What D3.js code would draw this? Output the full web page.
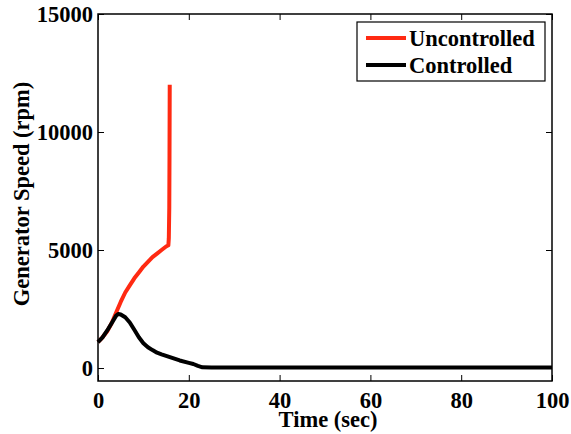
<!DOCTYPE html>
<html>
<head>
<meta charset="utf-8">
<script src="https://cdn.jsdelivr.net/npm/d3@7/dist/d3.min.js"></script>
<style>
  html, body { margin: 0; padding: 0; background: #fff; }
  svg text { font-family: "Liberation Serif", "Times New Roman", serif !important; font-weight: bold; fill: #000; }
</style>
</head>
<body>
<svg id="chart" width="571" height="434"></svg>
<script>
// Generator speed time histories (t in sec, speed in rpm)
const uncontrolledTime  = [0, 1, 2, 3, 4, 5, 6, 7, 8, 9, 10, 11, 12, 13, 14, 15, 15.5, 15.6, 15.7, 15.75, 15.8];
const uncontrolledSpeed = [1100, 1300, 1550, 1900, 2350, 2800, 3200, 3500, 3800, 4050, 4300, 4500, 4700, 4850, 5000, 5150, 5200, 5500, 6800, 9000, 12000];

const controlledTime  = [0, 1, 2, 3, 4, 4.5, 5, 6, 7, 8, 9, 10, 11, 12, 13, 14, 16, 18, 20, 21, 22, 23, 25, 30, 40, 50, 60, 70, 80, 90, 100];
const controlledSpeed = [1100, 1300, 1580, 1900, 2220, 2290, 2270, 2150, 1930, 1620, 1300, 1050, 880, 760, 650, 580, 450, 320, 220, 170, 90, 30, 20, 20, 20, 20, 20, 20, 20, 20, 20];

const xTicks = [0, 20, 40, 60, 80, 100];
const yTicks = [0, 5000, 10000, 15000];

const seriesNames  = ["Uncontrolled", "Controlled"];
const seriesColors = ["#ff2a12", "#000000"];

const FONT = 22.5;
const SERIF = '"Liberation Serif", "Times New Roman", serif';

const svg = d3.select("#chart");
const x = d3.scaleLinear().domain([0, 100]).range([98, 552]);
const y = d3.scaleLinear().domain([-550, 15000]).range([381, 14]);

const tickLen = 6;

// Axes (inward ticks, mirrored on top and right)
const gx = svg.append("g").attr("transform", `translate(0,${y.range()[0]})`)
  .call(d3.axisBottom(x).tickValues(xTicks).tickSize(-tickLen).tickPadding(11).tickSizeOuter(0).tickFormat(d3.format("d")));
const gxTop = svg.append("g").attr("transform", `translate(0,${y.range()[1]})`)
  .call(d3.axisTop(x).tickValues(xTicks).tickSize(-tickLen).tickFormat("").tickSizeOuter(0));
const gy = svg.append("g").attr("transform", `translate(${x.range()[0]},0)`)
  .call(d3.axisLeft(y).tickValues(yTicks).tickSize(-tickLen).tickPadding(5).tickSizeOuter(0).tickFormat(d3.format("d")));
const gyRight = svg.append("g").attr("transform", `translate(${x.range()[1]},0)`)
  .call(d3.axisRight(y).tickValues(yTicks).tickSize(-tickLen).tickFormat("").tickSizeOuter(0));

[gx, gxTop, gy, gyRight].forEach(g => {
  g.attr("font-family", SERIF).attr("font-size", FONT);
  g.select(".domain").remove();
  g.selectAll(".tick line").attr("stroke", "#000").attr("stroke-width", 1);
  g.selectAll(".tick text")
    .style("font-family", SERIF)
    .style("font-weight", "bold")
    .style("font-size", FONT + "px");
});

// Lines
const line = d3.line().x(d => x(d[0])).y(d => y(d[1]));
const unc = d3.zip(uncontrolledTime, uncontrolledSpeed);
const con = d3.zip(controlledTime, controlledSpeed);

svg.append("path").datum(unc).attr("d", line)
  .attr("fill", "none").attr("stroke", seriesColors[0]).attr("stroke-width", 4).attr("stroke-linejoin", "round");
svg.append("path").datum(con).attr("d", line)
  .attr("fill", "none").attr("stroke", seriesColors[1]).attr("stroke-width", 4).attr("stroke-linejoin", "round");

// Frame
svg.append("rect")
  .attr("x", x.range()[0]).attr("y", y.range()[1])
  .attr("width", x.range()[1] - x.range()[0]).attr("height", y.range()[0] - y.range()[1])
  .attr("fill", "none").attr("stroke", "#000").attr("stroke-width", 1.5);

// Axis labels
svg.append("text").attr("x", 328).attr("y", 427)
  .attr("text-anchor", "middle").style("font-size", FONT + "px").text("Time (sec)");
svg.append("text").attr("transform", "translate(29,194) rotate(-90)")
  .attr("text-anchor", "middle").style("font-size", FONT + "px").text("Generator Speed (rpm)");

// Legend
const lg = svg.append("g");
lg.append("rect").attr("x", 357).attr("y", 22).attr("width", 188).attr("height", 59)
  .attr("fill", "#fff").attr("stroke", "#000").attr("stroke-width", 1.2);
seriesNames.forEach((name, i) => {
  const yy = 38 + i * 27;
  lg.append("line").attr("x1", 366).attr("x2", 406).attr("y1", yy).attr("y2", yy)
    .attr("stroke", seriesColors[i]).attr("stroke-width", 4);
  lg.append("text").attr("x", 409).attr("y", yy + 8).style("font-size", FONT + "px").text(name);
});
</script>
</body>
</html>
